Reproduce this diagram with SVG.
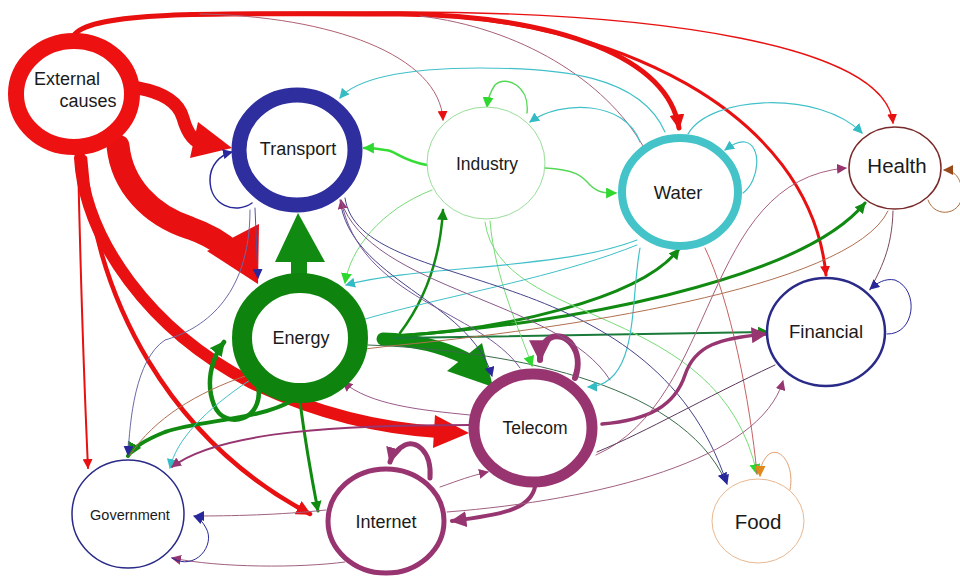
<svg xmlns="http://www.w3.org/2000/svg" width="960" height="576" viewBox="0 0 960 576">
<style>
.c{fill:none;stroke-linecap:round}
.n{fill:#fff}
.t{font-family:"Liberation Sans",Arial,sans-serif;fill:#1a1a1a;text-anchor:middle}
</style>
<defs>
<marker id="aRed" viewBox="0 0 10 10" refX="9" refY="5" markerWidth="10" markerHeight="10" markerUnits="userSpaceOnUse" orient="auto"><path d="M0,0L10,5L0,10z" fill="#e81010"/></marker>
<marker id="aRedM" viewBox="0 0 10 10" refX="9" refY="5" markerWidth="15" markerHeight="15" markerUnits="userSpaceOnUse" orient="auto"><path d="M0,0L10,5L0,10z" fill="#e81010"/></marker>
<marker id="aGrn" viewBox="0 0 10 10" refX="9" refY="5" markerWidth="11" markerHeight="11" markerUnits="userSpaceOnUse" orient="auto"><path d="M0,0L10,5L0,10z" fill="#108a10"/></marker>
<marker id="aGrnM" viewBox="0 0 10 10" refX="9" refY="5" markerWidth="15" markerHeight="15" markerUnits="userSpaceOnUse" orient="auto"><path d="M0,0L10,5L0,10z" fill="#108a10"/></marker>
<marker id="aLg" viewBox="0 0 10 10" refX="9" refY="5" markerWidth="11" markerHeight="11" markerUnits="userSpaceOnUse" orient="auto"><path d="M0,0L10,5L0,10z" fill="#2ed82e"/></marker>
<marker id="aCy" viewBox="0 0 10 10" refX="9" refY="5" markerWidth="10" markerHeight="10" markerUnits="userSpaceOnUse" orient="auto"><path d="M0,0L10,5L0,10z" fill="#33bcc4"/></marker>
<marker id="aNv" viewBox="0 0 10 10" refX="9" refY="5" markerWidth="10" markerHeight="10" markerUnits="userSpaceOnUse" orient="auto"><path d="M0,0L10,5L0,10z" fill="#28289a"/></marker>
<marker id="aPu" viewBox="0 0 10 10" refX="9" refY="5" markerWidth="10" markerHeight="10" markerUnits="userSpaceOnUse" orient="auto"><path d="M0,0L10,5L0,10z" fill="#963570"/></marker>
<marker id="aPuM" viewBox="0 0 10 10" refX="9" refY="5" markerWidth="16" markerHeight="16" markerUnits="userSpaceOnUse" orient="auto"><path d="M0,0L10,5L0,10z" fill="#963570"/></marker>
<marker id="aPuL" viewBox="0 0 10 10" refX="9" refY="5" markerWidth="22" markerHeight="22" markerUnits="userSpaceOnUse" orient="auto"><path d="M0,0L10,5L0,10z" fill="#963570"/></marker>
<marker id="aBr" viewBox="0 0 10 10" refX="9" refY="5" markerWidth="10" markerHeight="10" markerUnits="userSpaceOnUse" orient="auto"><path d="M0,0L10,5L0,10z" fill="#9a4a1a"/></marker>
<marker id="aOr" viewBox="0 0 10 10" refX="9" refY="5" markerWidth="11" markerHeight="11" markerUnits="userSpaceOnUse" orient="auto"><path d="M0,0L10,5L0,10z" fill="#e0881a"/></marker>
</defs>

<g id="connectors">
<!-- top bundle from External causes -->
<path class="c" d="M75,34 C95,12 200,13 400,14 C560,16 668,58 679,128" stroke="#e81010" stroke-width="5" marker-end="url(#aRedM)"/>
<path class="c" d="M75,34 C95,12 200,13 400,14 C610,16 810,110 826,275" stroke="#e81010" stroke-width="3" marker-end="url(#aRed)"/>
<path class="c" d="M75,34 C95,12 200,12 400,12 C660,12 885,45 893,123" stroke="#e81010" stroke-width="1.3" marker-end="url(#aRed)"/>
<path class="c" d="M200,14 C330,16 440,55 443,120" stroke="#b06070" stroke-width="1" marker-end="url(#aRed)"/>
<path class="c" d="M420,16 C520,28 605,80 643,146" stroke="#a86078" stroke-width="1"/>

<!-- External causes lower edges -->
<path class="c" d="M78,158 C80,250 84,380 88,468" stroke="#e81010" stroke-width="2" marker-end="url(#aRed)"/>
<path class="c" d="M85,158 C95,300 170,440 310,514" stroke="#e81010" stroke-width="4.5" marker-end="url(#aRedM)"/>
<path class="c" d="M80,158 C85,240 150,330 250,382 C320,415 380,428 438,432" stroke="#e81010" stroke-width="12"/>
<polygon points="435,415 469,433 433,448" fill="#e81010"/>
<path class="c" d="M118,146 C122,185 150,215 190,228 C210,235 222,243 232,252" stroke="#e81010" stroke-width="23" stroke-linecap="butt"/>
<polygon points="207,251 259,224 258,284" fill="#e81010"/>
<path class="c" d="M138,88 C160,92 178,100 183,118 C188,136 195,142 205,145" stroke="#e81010" stroke-width="13" stroke-linecap="butt"/>
<polygon points="198,122 232,148 190,158" fill="#e81010"/>

<!-- Energy -->
<rect x="291" y="256" width="16" height="18" fill="#108a10"/>
<polygon points="275,262 325,262 298,213" fill="#108a10"/>
<path class="c" d="M383,339 C420,340 445,348 465,358" stroke="#108a10" stroke-width="13" stroke-linecap="butt"/>
<polygon points="447,371 482,343 493,387" fill="#108a10"/>
<path class="c" d="M400,333 C425,300 440,260 443,210" stroke="#108a10" stroke-width="2.5" marker-end="url(#aGrn)"/>
<path class="c" d="M395,336 C500,330 640,300 679,249" stroke="#108a10" stroke-width="3" marker-end="url(#aGrn)"/>
<path class="c" d="M395,336 C560,325 800,282 865,203" stroke="#108a10" stroke-width="3" marker-end="url(#aGrn)"/>
<path class="c" d="M395,338 C550,336 680,333 768,332" stroke="#1a7a3a" stroke-width="2" marker-end="url(#aGrn)"/>
<path class="c" d="M368,345 C500,350 680,380 726,482" stroke="#3a6a4a" stroke-width="1" marker-end="url(#aNv)"/>
<path class="c" d="M293,400 C260,420 200,420 165,432 C145,440 133,447 128,456" stroke="#108a10" stroke-width="4" marker-end="url(#aGrnM)"/>
<path class="c" d="M300,402 C305,440 312,480 318,511" stroke="#108a10" stroke-width="3" marker-end="url(#aGrn)"/>
<path class="c" d="M258,385 C265,420 225,432 214,405 C206,385 210,360 224,342" stroke="#108a10" stroke-width="4.5" marker-end="url(#aGrnM)"/>

<!-- Industry -->
<path class="c" d="M427,165 C400,160 395,150 385,150 C375,148 370,148 364,148" stroke="#33dd33" stroke-width="2.5" marker-end="url(#aLg)"/>
<path class="c" d="M545,168 C580,170 583,178 590,185 C598,193 605,193 616,193" stroke="#55d855" stroke-width="1.4" marker-end="url(#aLg)"/>
<path class="c" d="M527,113 C530,85 505,75 495,85 C490,92 488,98 487,107" stroke="#55d855" stroke-width="1.4" marker-end="url(#aLg)"/>
<path class="c" d="M432,190 C380,210 350,250 345,283" stroke="#77dd77" stroke-width="1" marker-end="url(#aLg)"/>
<path class="c" d="M490,221 C495,280 520,330 532,366" stroke="#77dd77" stroke-width="1" marker-end="url(#aLg)"/>
<path class="c" d="M485,222 C500,330 720,300 757,474" stroke="#77dd77" stroke-width="1" marker-end="url(#aLg)"/>

<!-- Water -->
<path class="c" d="M665,132 C640,75 560,68 480,68 C400,68 355,80 340,98" stroke="#40c0c8" stroke-width="1.2" marker-end="url(#aCy)"/>
<path class="c" d="M640,142 C625,100 560,100 530,122" stroke="#40c0c8" stroke-width="1.2" marker-end="url(#aCy)"/>
<path class="c" d="M688,134 C710,95 820,90 862,133" stroke="#40c0c8" stroke-width="1.2" marker-end="url(#aCy)"/>
<path class="c" d="M743,193 C760,180 762,145 745,142 C738,141 732,145 725,150" stroke="#40c0c8" stroke-width="1.2" marker-end="url(#aCy)"/>
<path class="c" d="M637,240 C560,270 420,265 346,285" stroke="#40c0c8" stroke-width="1.2" marker-end="url(#aCy)"/>
<path class="c" d="M640,248 C630,300 640,385 588,387" stroke="#40c0c8" stroke-width="1.2" marker-end="url(#aCy)"/>
<path class="c" d="M637,245 C500,300 300,310 250,380 C205,410 176,440 170,468" stroke="#40c0c8" stroke-width="1" marker-end="url(#aCy)"/>
<path class="c" d="M705,248 C730,300 750,400 757,474" stroke="#c86060" stroke-width="1"/>

<!-- Transport -->
<path class="c" d="M252,203 C235,215 210,205 210,180 C210,165 220,155 232,152" stroke="#28289a" stroke-width="1.5" marker-end="url(#aNv)"/>
<path class="c" d="M255,208 L258,278" stroke="#5050a0" stroke-width="1" marker-end="url(#aNv)"/>
<path class="c" d="M250,210 C250,300 200,330 165,340 C135,360 130,420 128,455" stroke="#6a6aa8" stroke-width="1" marker-end="url(#aNv)"/>
<path class="c" d="M340,200 C350,280 470,300 492,376" stroke="#44448a" stroke-width="1" marker-end="url(#aNv)"/>
<path class="c" d="M345,198 C360,300 650,250 727,484" stroke="#44448a" stroke-width="1" marker-end="url(#aNv)"/>

<!-- Telecom -->
<path class="c" d="M575,378 C585,350 565,330 550,338 C543,342 540,350 540,360" stroke="#963570" stroke-width="6" marker-end="url(#aPuL)"/>
<path class="c" d="M602,424 C650,420 675,405 685,375 C695,345 720,338 766,334" stroke="#963570" stroke-width="3.5" marker-end="url(#aPuM)"/>
<path class="c" d="M535,487 C530,510 500,515 452,521" stroke="#963570" stroke-width="4" marker-end="url(#aPuM)"/>
<path class="c" d="M470,425 C350,425 220,430 172,467" stroke="#963570" stroke-width="2" marker-end="url(#aPu)"/>
<path class="c" d="M520,368 C480,310 360,300 341,200" stroke="#7a5a9a" stroke-width="1" marker-end="url(#aPu)"/>
<path class="c" d="M610,380 C560,300 370,290 341,201" stroke="#8a5a8a" stroke-width="1"/>
<path class="c" d="M470,415 C420,410 370,405 343,382" stroke="#9a5a8a" stroke-width="1" marker-end="url(#aPu)"/>
<path class="c" d="M596,455 C720,400 700,180 846,168" stroke="#a86080" stroke-width="1" marker-end="url(#aPu)"/>
<path class="c" d="M775,365 C700,400 650,430 597,452" stroke="#5a3a5a" stroke-width="1"/>

<!-- Internet -->
<path class="c" d="M430,478 C432,450 415,440 405,445 C397,449 392,455 390,462" stroke="#963570" stroke-width="5" marker-end="url(#aPuM)"/>
<path class="c" d="M326,510 C280,515 230,516 195,516" stroke="#a06080" stroke-width="1" marker-end="url(#aNv)"/>
<path class="c" d="M345,562 C300,568 220,568 172,558" stroke="#a06080" stroke-width="1" marker-end="url(#aPu)"/>
<path class="c" d="M440,487 C460,480 470,476 488,472" stroke="#a06080" stroke-width="1" marker-end="url(#aPu)"/>
<path class="c" d="M447,512 C600,500 760,460 783,381" stroke="#a06080" stroke-width="1" marker-end="url(#aPu)"/>

<!-- Government -->
<path class="c" d="M172,558 C195,572 216,545 206,528 C203,522 199,518 194,516" stroke="#28289a" stroke-width="1" marker-end="url(#aNv)"/>

<!-- Health -->
<path class="c" d="M928,200 C935,220 965,215 962,190 C960,175 952,170 944,170" stroke="#b06a3a" stroke-width="1" marker-end="url(#aBr)"/>
<path class="c" d="M893,211 C892,250 880,270 870,290" stroke="#7a4a5a" stroke-width="1"/>
<path class="c" d="M888,211 C850,290 550,330 400,345 C300,355 180,380 130,455" stroke="#b07050" stroke-width="1"/>

<!-- Financial -->
<path class="c" d="M887,334 C915,335 920,290 895,280 C885,278 877,283 870,289" stroke="#28289a" stroke-width="1" marker-end="url(#aNv)"/>

<!-- Food -->
<path class="c" d="M790,490 C795,465 780,445 768,455 C763,460 760,467 760,476" stroke="#e0a070" stroke-width="1" marker-end="url(#aOr)"/>
</g>

<g id="ext"><ellipse class="n" cx="74" cy="94" rx="58" ry="53" stroke="#ee1111" stroke-width="16"/><text class="t" x="67" y="85" font-size="18">External</text><text class="t" x="88" y="107" font-size="18">causes</text></g>
<g id="transport"><ellipse class="n" cx="297" cy="150" rx="58" ry="55" stroke="#2e2e9e" stroke-width="15"/><text class="t" x="298" y="155" font-size="18">Transport</text></g>
<g id="industry"><ellipse class="n" cx="486" cy="163" rx="59" ry="56" stroke="#99dd99" stroke-width="1"/><text class="t" x="487" y="170" font-size="17.5">Industry</text></g>
<g id="water"><ellipse class="n" cx="680" cy="192" rx="58" ry="54" stroke="#44c4c8" stroke-width="8"/><text class="t" x="678" y="199" font-size="18.5">Water</text></g>
<g id="health"><ellipse class="n" cx="895" cy="168" rx="46" ry="41" stroke="#7a2a2a" stroke-width="1.5"/><text class="t" x="897" y="173" font-size="20.5">Health</text></g>
<g id="energy"><ellipse class="n" cx="300" cy="338" rx="58" ry="55" stroke="#0e840e" stroke-width="20"/><text class="t" x="301" y="344" font-size="18">Energy</text></g>
<g id="telecom"><ellipse class="n" cx="533" cy="428" rx="59" ry="54" stroke="#983470" stroke-width="11"/><text class="t" x="535" y="434" font-size="17.5">Telecom</text></g>
<g id="financial"><ellipse class="n" cx="826" cy="332" rx="59" ry="54" stroke="#2a2a88" stroke-width="2.5"/><text class="t" x="826" y="338" font-size="18.5">Financial</text></g>
<g id="government"><ellipse class="n" cx="128" cy="514" rx="56" ry="54" stroke="#2a2a88" stroke-width="1.5"/><text class="t" x="130" y="520" font-size="14.5">Government</text></g>
<g id="internet"><ellipse class="n" cx="386" cy="521" rx="58" ry="52" stroke="#983470" stroke-width="5"/><text class="t" x="386" y="528" font-size="18">Internet</text></g>
<g id="food"><ellipse class="n" cx="758" cy="521" rx="46" ry="42" stroke="#e8b890" stroke-width="1"/><text class="t" x="758" y="529" font-size="20.5">Food</text></g>
</svg>
